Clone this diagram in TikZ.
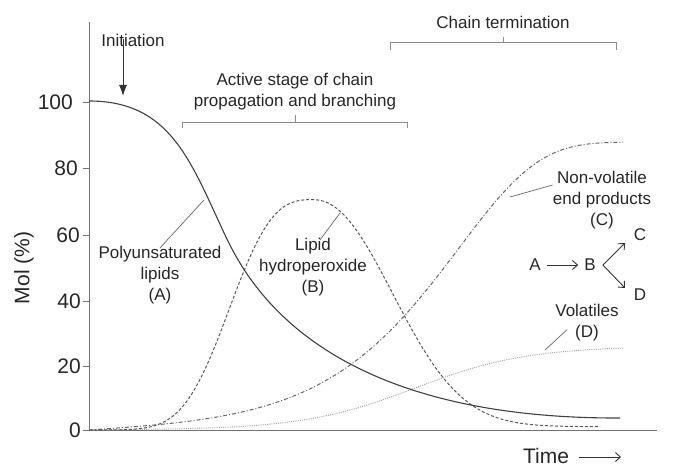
\documentclass[tikz,border=0pt]{standalone}
\usepackage{fontspec}
\setmainfont{Liberation Sans}
\usetikzlibrary{arrows.meta}

\begin{document}
\begin{tikzpicture}[x=1pt,y=-1pt,
  every node/.style={text=black!85, font=\fontsize{17}{21}\selectfont, inner sep=0pt, align=center},
  axisfont/.style={font=\fontsize{21}{24}\selectfont},
  axisline/.style={line width=0.8pt, black!55},
  bracket/.style={line width=0.8pt, black!45},
  leader/.style={line width=0.7pt, black!60},
  lipidsA/.style={line width=1.1pt, black!75},
  peroxB/.style={line width=1pt, black!65, dash pattern=on 3pt off 2pt},
  nonvolC/.style={line width=1pt, black!60, dash pattern=on 4pt off 2pt on 1pt off 2pt},
  volatD/.style={line width=1pt, black!35, dash pattern=on 1pt off 1.2pt},
  schemearrow/.style={line width=0.9pt, black!80, -{Straight Barb[length=5pt,width=9pt]}}]
\useasboundingbox (0,0) rectangle (679,470);
% axes
\draw[axisline] (89,22) -- (89,430) -- (657,430);
\foreach \val/\ypos/\xpos in {0/430/81,20/366/81,40/301/81,60/235/80,80/168/78,100/102/73}{
  \draw[axisline] (83,\ypos) -- (89,\ypos);
  \node[axisfont, anchor=east] (tick\val) at (\xpos,\ypos) {\val};
}
\node[axisfont, rotate=90] (ylabel) at (24,268) {Mol (\%)};
\node[axisfont] (xlabel) at (546,456) {Time};
\coordinate (timeend) at (621,457);
\draw[schemearrow, shorten <=10pt] (xlabel.east |- timeend) -- (timeend);

% stages
\node (init) at (133,40) {Initiation};
\coordinate (initend) at (123,96);
\draw[line width=0.9pt, black!80, -{Latex[length=11pt,width=8pt]}] (init.south -| initend) ++(0,-7) -- (initend);
\node (active) at (295,92) {Active stage of chain\\propagation and branching};
\draw[bracket] (182,128) -- (182,122) -- (407,122) -- (407,128) (295,122) -- (295,115);
\node (termin) at (503,22) {Chain termination};
\draw[bracket] (390,50) -- (390,42) -- (616,42) -- (616,50) (503,42) -- (503,37);

% curves
\draw[volatD] plot[domain=89:623, samples=90, smooth] (\x,{430-83.9/(1+exp(-(\x-415)/56))});
\draw[nonvolC] plot[domain=89:623, samples=90, smooth]
  (\x,{430-287.9*(1-exp(-exp((\x-459)/80)))*(1-exp(-(\x-89)/40))});
\draw[peroxB] plot[domain=89:313, samples=60, smooth] (\x,{430-230.3*exp(-((313.001-\x)/97.7)^2.86)})
  -- plot[domain=313:600, samples=70, smooth] (\x,{426.7-227*exp(-((\x-312.999)/106.7)^2.15)});
\draw[lipidsA] (89,101) .. controls (170,101) and (190,160) .. (225,235)
  .. controls (250,288) and (325,419) .. (620,418);

% curve labels
\node (polyA) at (160,275) {Polyunsaturated\\lipids\\(A)};
\coordinate (onA) at (204,200);
\draw[leader] ([yshift=-2pt]polyA.north) -- (onA);
\node (lipidB) at (313,267) {Lipid\\hydroperoxide\\(B)};
\coordinate (onB) at (340,213);
\draw[leader] ([xshift=7pt,yshift=-2pt]lipidB.north) -- (onB);
\node (nonvolC) at (602,200) {Non-volatile\\end products\\(C)};
\coordinate (onC) at (510,197);
\draw[leader] ([yshift=15pt]nonvolC.west) -- (onC);
\node (volD) at (587,323) {Volatiles\\(D)};
\coordinate (onD) at (545,350);
\draw[leader] ([xshift=12pt,yshift=12pt]volD.south west) -- (onD);

% reaction scheme
\node (sA) at (535,265) {A};
\node (sB) at (590,265) {B};
\node (sC) at (640,235) {C};
\node (sD) at (640,295) {D};
\draw[schemearrow, shorten <=6pt, shorten >=6pt] (sA.east) -- (sB.west);
\coordinate (fork) at ([xshift=7pt]sB.east);
\coordinate (tipC) at (625,243);
\coordinate (tipD) at (625,288);
\draw[schemearrow] (fork) -- (tipC);
\draw[schemearrow] (fork) -- (tipD);
\end{tikzpicture}
\end{document}
